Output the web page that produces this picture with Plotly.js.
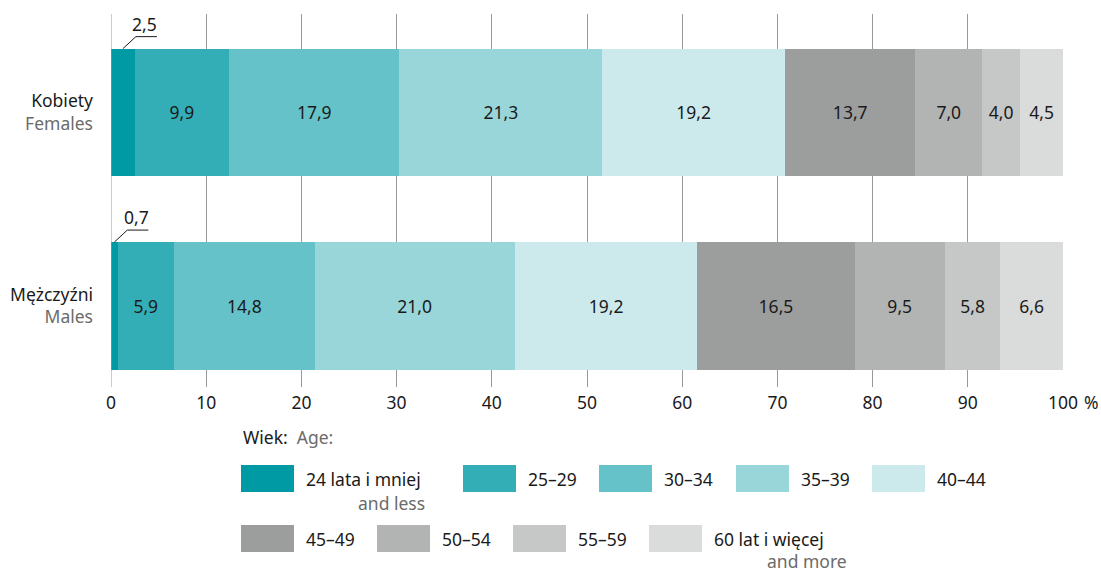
<!DOCTYPE html>
<html>
<head>
<meta charset="utf-8">
<script src="https://cdn.plot.ly/plotly-3.0.1.min.js"></script>
<style>html,body{margin:0;padding:0;background:#fff;}#chart{width:1101px;height:572px;}</style>
</head>
<body>
<div id="chart"></div>
<script>
// ---- data ----
const categories = ['Kobiety', 'Mężczyźni'];
const categoriesEn = ['Females', 'Males'];
const categoryPos = [1, 0];
const ageGroups = ['24 lata i mniej', '25–29', '30–34', '35–39', '40–44', '45–49', '50–54', '55–59', '60 lat i więcej'];
const ageGroupsEn = ['and less', '', '', '', '', '', '', '', 'and more'];
const females = [2.5, 9.9, 17.9, 21.3, 19.2, 13.7, 7.0, 4.0, 4.5];
const males = [0.7, 5.9, 14.8, 21.0, 19.2, 16.5, 9.5, 5.8, 6.6];
const xTickVals = [0, 10, 20, 30, 40, 50, 60, 70, 80, 90, 100];
const xTickText = ['0', '10', '20', '30', '40', '50', '60', '70', '80', '90', '100'];

// ---- style ----
const colors = ['#009aa5', '#33aeb7', '#66c2c9', '#99d6da', '#cceaec', '#9c9d9d', '#b2b3b3', '#c6c7c7', '#dadbdb'];
const FONT = '"Noto Sans", "Open Sans", sans-serif';
const FS = 17.5;
const TXT = '#1a1a1a';
const GREY_TXT = '#6b6b6b';
const GRID = '#999999';
const BAR_W = 0.66;
const SMALL = 3; // segments narrower than this get an external label

// plot area in pixels (for the hand-made legend)
const L = 111, T = 14, PW = 952, PH = 373;
const fx = px => (px - L) / PW;
const fy = py => (T + PH - py) / PH;

const traces = ageGroups.map((g, i) => {
  const vals = [females[i], males[i]];
  return {
    type: 'bar',
    orientation: 'h',
    name: g,
    x: vals,
    y: categoryPos,
    width: BAR_W,
    marker: {color: colors[i], line: {width: 0}},
    texttemplate: vals.map(v => v < SMALL ? '' : '%{x:.1f}'),
    textposition: 'inside',
    insidetextanchor: 'middle',
    textangle: 0,
    constraintext: 'none',
    insidetextfont: {family: FONT, size: FS, color: TXT},
    hoverinfo: 'skip',
    showlegend: false
  };
});

const shapes = [];
const annotations = [];

// zero line above bars
shapes.push({type: 'line', xref: 'x', yref: 'paper', x0: 0, x1: 0, y0: 0, y1: 1,
  line: {color: GRID, width: 1}, layer: 'above'});

// external labels for small segments
const seriesByCat = [females, males];
seriesByCat.forEach((arr, c) => {
  arr.forEach((v, i) => {
    if (v >= SMALL) return;
    let start = 0;
    for (let k = 0; k < i; k++) start += arr[k];
    const xa = start + v / 2;
    const ya = categoryPos[c] + BAR_W / 2;
    shapes.push({type: 'path', xref: 'x', yref: 'y', xsizemode: 'pixel', ysizemode: 'pixel',
      xanchor: xa, yanchor: ya, path: 'M0,0L13,12L34,12', line: {color: TXT, width: 1}, layer: 'above'});
    annotations.push({xref: 'x', yref: 'y', x: xa, y: ya, xshift: 22, yshift: 25,
      text: v.toFixed(1).replace('.', ','), showarrow: false, xanchor: 'center', yanchor: 'middle',
      font: {family: FONT, size: FS, color: TXT}});
  });
});

// "%" after the 100 tick
annotations.push({xref: 'x', yref: 'paper', x: 100, y: fy(402), xshift: 19, text: '%', showarrow: false,
  xanchor: 'left', yanchor: 'middle', font: {family: FONT, size: FS, color: TXT}});

// legend title
annotations.push({xref: 'paper', yref: 'paper', x: fx(241), y: fy(437), xanchor: 'left', yanchor: 'middle',
  showarrow: false, text: 'Wiek:  <span style="color:' + GREY_TXT + '">Age:</span>',
  font: {family: FONT, size: FS, color: TXT}});

// custom legend
const legendX0 = [241, 463, 599, 736, 872, 241, 377, 513, 649];
const legendY0 = [465, 465, 465, 465, 465, 525, 525, 525, 525];
const SW = 53, SH = 27;
ageGroups.forEach((g, i) => {
  const x0 = legendX0[i], y0 = legendY0[i];
  shapes.push({type: 'rect', xref: 'paper', yref: 'paper', x0: fx(x0), x1: fx(x0 + SW), y0: fy(y0 + SH), y1: fy(y0),
    fillcolor: colors[i], line: {width: 0}});
  annotations.push({xref: 'paper', yref: 'paper', x: fx(x0 + SW + 10), y: fy(y0 + SH / 2), xanchor: 'left', yanchor: 'middle',
    showarrow: false, text: g, font: {family: FONT, size: FS, color: TXT}});
  if (ageGroupsEn[i]) {
    annotations.push({xref: 'paper', yref: 'paper', x: fx(x0 + SW + 10 + (i === 0 ? 123 : 137)),
      y: fy(y0 + SH / 2 + (i === 0 ? 24 : 22)),
      xanchor: 'right', yanchor: 'middle', showarrow: false, text: ageGroupsEn[i],
      font: {family: FONT, size: FS, color: GREY_TXT}});
  }
});

const layout = {
  width: 1101, height: 572,
  margin: {l: L, r: 1101 - L - PW, t: T, b: 572 - T - PH, pad: 0},
  paper_bgcolor: '#ffffff', plot_bgcolor: '#ffffff',
  barmode: 'stack',
  bargap: 0,
  separators: ',.',
  font: {family: FONT, size: FS, color: TXT},
  showlegend: false,
  xaxis: {
    range: [0, 100], tickvals: xTickVals, ticktext: xTickText,
    showgrid: true, gridcolor: GRID, gridwidth: 1, zeroline: false, showline: false, ticks: '',
    tickfont: {family: FONT, size: FS, color: TXT}, ticklabelstandoff: 3, fixedrange: true
  },
  yaxis: {
    range: [-0.419, 1.509], tickvals: categoryPos,
    ticktext: categories.map((c, i) => c + '<br><span style="color:' + GREY_TXT + '">' + categoriesEn[i] + '</span>'),
    showgrid: false, zeroline: false, showline: false, ticks: '',
    tickfont: {family: FONT, size: FS, color: TXT}, ticklabelstandoff: 17, fixedrange: true
  },
  shapes: shapes,
  annotations: annotations,
  hovermode: false
};

Plotly.newPlot('chart', traces, layout, {displayModeBar: false, staticPlot: true});
</script>
</body>
</html>
